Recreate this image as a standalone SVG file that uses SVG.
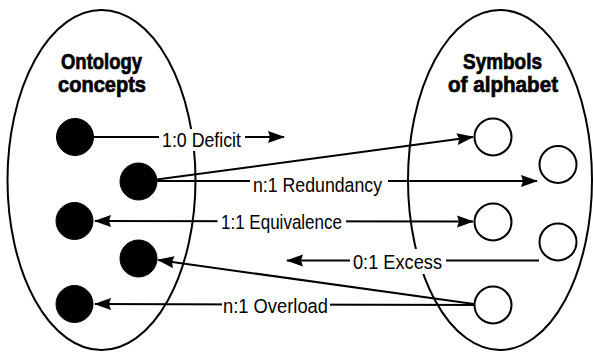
<svg xmlns="http://www.w3.org/2000/svg" width="593" height="352" viewBox="0 0 593 352">
<style>
.set{fill:none;stroke:#000;stroke-width:2}
.ln{fill:none;stroke:#000;stroke-width:2}
.arr{marker-end:url(#ah)}
.dbl{marker-start:url(#ah);marker-end:url(#ah)}
.bk{fill:#000;stroke:#000;stroke-width:1}
.wh{fill:#fff;stroke:#000;stroke-width:2}
.lbl{font-family:"Liberation Sans Narrow","Liberation Sans",Arial,sans-serif;font-size:20.5px;fill:#000}
.hd{font-family:"Liberation Sans Narrow","Liberation Sans",Arial,sans-serif;font-size:22px;font-weight:bold;fill:#000;stroke:#000;stroke-width:0.7px}
.mask{fill:#fff;stroke:none}
</style>
<defs>
<marker id="ah" markerUnits="userSpaceOnUse" markerWidth="18" markerHeight="14" refX="16" refY="6" orient="auto-start-reverse" viewBox="0 0 18 14">
<path d="M0,0 L17,6 L0,12 L2,6 z" fill="#000"/>
</marker>
</defs>
<g id="sets">
<ellipse id="ontology-set" class="set" cx="101.5" cy="180" rx="94" ry="170"/>
<ellipse id="alphabet-set" class="set" cx="500" cy="180" rx="92" ry="170"/>
</g>
<g id="headings">
<text class="hd" x="61" y="69" textLength="81" lengthAdjust="spacingAndGlyphs">Ontology</text>
<text class="hd" x="58" y="92" textLength="88" lengthAdjust="spacingAndGlyphs">concepts</text>
<text class="hd" x="463" y="69" textLength="79" lengthAdjust="spacingAndGlyphs">Symbols</text>
<text class="hd" x="448" y="92" textLength="110" lengthAdjust="spacingAndGlyphs">of alphabet</text>
</g>
<g id="connectors">
<line class="ln arr" x1="75" y1="137" x2="284" y2="137"/>
<line class="ln arr" x1="138" y1="182" x2="473" y2="137"/>
<line class="ln arr" x1="138" y1="181" x2="537" y2="181"/>
<line class="ln dbl" x1="95" y1="221" x2="473" y2="221.5"/>
<line class="ln arr" x1="539" y1="260.5" x2="287" y2="260.5"/>
<line class="ln arr" x1="493" y1="305" x2="95" y2="304"/>
<line class="ln arr" x1="474" y1="304" x2="158" y2="260"/>
</g>
<g id="labels">
<g id="label-deficit"><rect class="mask" x="159" y="129" width="86" height="22"/><text class="lbl" x="162" y="147" textLength="79" lengthAdjust="spacingAndGlyphs">1:0 Deficit</text></g>
<g id="label-redundancy"><rect class="mask" x="250" y="174" width="138" height="22"/><text class="lbl" x="253" y="192" textLength="129" lengthAdjust="spacingAndGlyphs">n:1 Redundancy</text></g>
<g id="label-equivalence"><rect class="mask" x="217.5" y="210" width="128.5" height="23"/><text class="lbl" x="221" y="228.5" textLength="121" lengthAdjust="spacingAndGlyphs">1:1 Equivalence</text></g>
<g id="label-excess"><rect class="mask" x="350" y="249" width="96" height="25"/><text class="lbl" x="353" y="269" textLength="89" lengthAdjust="spacingAndGlyphs">0:1 Excess</text></g>
<g id="label-overload"><rect class="mask" x="222" y="294" width="108" height="22"/><text class="lbl" x="223" y="312.5" textLength="105" lengthAdjust="spacingAndGlyphs">n:1 Overload</text></g>
</g>
<g id="concept-1"><circle class="bk" cx="75" cy="137" r="18.5"/></g>
<g id="concept-2"><circle class="bk" cx="138.5" cy="181.5" r="18.5"/></g>
<g id="concept-3"><circle class="bk" cx="74.5" cy="221" r="18.5"/></g>
<g id="concept-4"><circle class="bk" cx="138.5" cy="258.5" r="18.5"/></g>
<g id="concept-5"><circle class="bk" cx="74.5" cy="304" r="18.5"/></g>
<g id="symbol-1"><circle class="wh" cx="493" cy="137" r="18.5"/></g>
<g id="symbol-2"><circle class="wh" cx="558" cy="164.5" r="18.5"/></g>
<g id="symbol-3"><circle class="wh" cx="493" cy="222" r="18.5"/></g>
<g id="symbol-4"><circle class="wh" cx="558" cy="242" r="18.5"/></g>
<g id="symbol-5"><circle class="wh" cx="493" cy="305" r="18.5"/></g>
</svg>
